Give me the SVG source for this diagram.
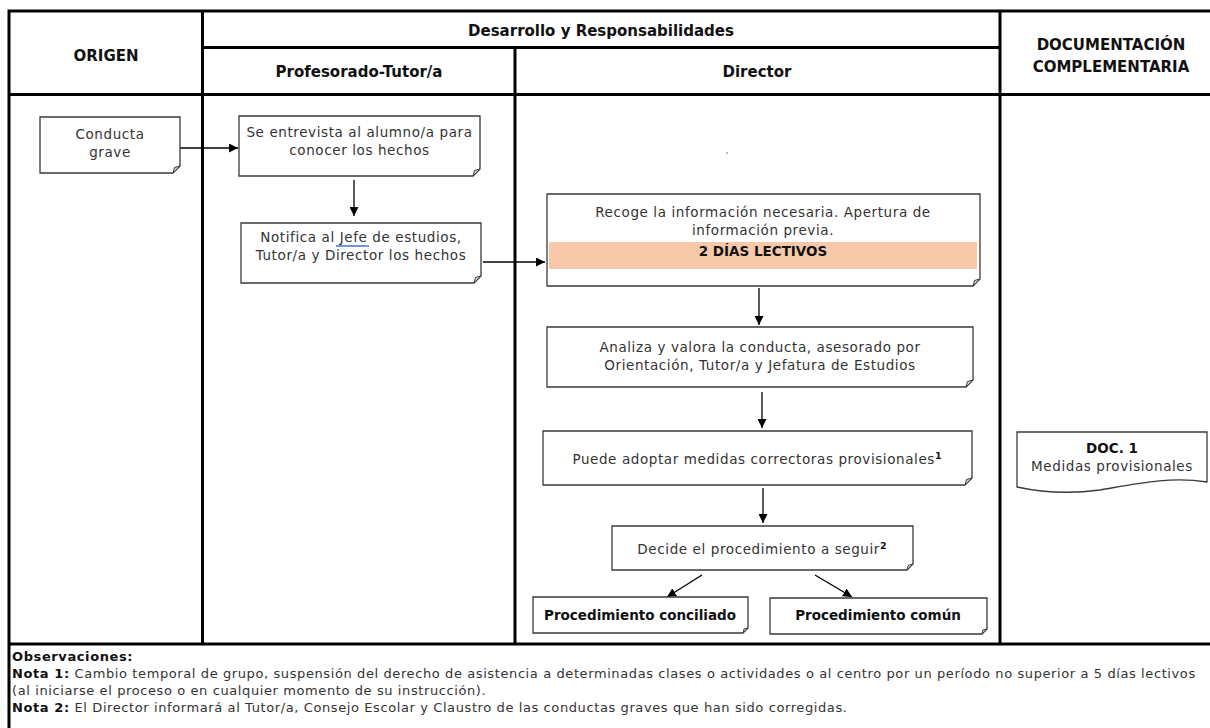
<svg xmlns="http://www.w3.org/2000/svg" width="1210" height="728" viewBox="0 0 1210 728">
<style>
.grid{stroke:#000;stroke-width:3;fill:none}
.hd{font-family:"DejaVu Sans",sans-serif;font-weight:bold;font-size:15px;fill:#111;text-anchor:middle}
.box{fill:#fff;stroke:#3a3a3a;stroke-width:1.3}
.fold{fill:#d0d0d0;stroke:#3a3a3a;stroke-width:1}
.t{font-family:"DejaVu Sans",sans-serif;font-size:13.5px;letter-spacing:0.6px;fill:#333;text-anchor:middle}
.tb{font-family:"DejaVu Sans",sans-serif;font-size:13.5px;font-weight:bold;fill:#111;text-anchor:middle}
.sup{font-size:9.5px;font-weight:bold;fill:#111;letter-spacing:0}
.n{font-family:"DejaVu Sans",sans-serif;font-size:13px;letter-spacing:0.6px;fill:#333}
.nb{font-weight:bold;fill:#111}
.con{stroke:#000;stroke-width:1.3;fill:none;marker-end:url(#ah)}
</style>
<defs>
<marker id="ah" viewBox="0 0 10 10" refX="10" refY="5" markerWidth="9" markerHeight="9" markerUnits="userSpaceOnUse" orient="auto"><path d="M0,0 L10,5 L0,10 z" fill="#000"/></marker>
</defs>
<rect width="1210" height="728" fill="#fff"/>
<g id="table">
<path class="grid" d="M9,728 V11 H1212 M202.5,11 V644 M515,47.5 V644 M1000,11 V644 M202.5,47.5 H1000 M9,94.5 H1212 M9,644 H1212"/>
<text class="hd" x="106" y="61">ORIGEN</text>
<text class="hd" x="601" y="36">Desarrollo y Responsabilidades</text>
<text class="hd" x="359" y="77">Profesorado-Tutor/a</text>
<text class="hd" x="757" y="77">Director</text>
<text class="hd" x="1111" y="50">DOCUMENTACIÓN</text>
<text class="hd" x="1111" y="72">COMPLEMENTARIA</text>
</g>
<g id="connectors">
<path class="con" d="M180,148 H238"/>
<path class="con" d="M354,180 V216"/>
<path class="con" d="M483,262 H545"/>
<path class="con" d="M759,288 V325"/>
<path class="con" d="M762,392 V428"/>
<path class="con" d="M763,488 V523"/>
<path class="con" d="M702,575 L667,597"/>
<path class="con" d="M815,575 L852,597"/>
</g>
<g id="n-conducta">
<path class="box" d="M40,117 H180 V166 L173,173 H40 Z"/>
<path class="fold" d="M180,166 L173,173 L174.5,167.5 Z"/>
<text class="t" x="110" y="139">Conducta</text>
<text class="t" x="110" y="157">grave</text>
</g>
<g id="n-entrevista">
<path class="box" d="M239,116 H480 V169 L473,176 H239 Z"/>
<path class="fold" d="M480,169 L473,176 L474.5,170.5 Z"/>
<text class="t" x="359.5" y="137">Se entrevista al alumno/a para</text>
<text class="t" x="359.5" y="155">conocer los hechos</text>
</g>
<g id="n-notifica">
<path class="box" d="M241,223 H481 V276 L474,283 H241 Z"/>
<path class="fold" d="M481,276 L474,283 L475.5,277.5 Z"/>
<text class="t" x="361" y="242">Notifica al Jefe de estudios,</text>
<text class="t" x="361" y="260">Tutor/a y Director los hechos</text>
<line x1="336" y1="246" x2="369" y2="246" stroke="#4472c4" stroke-width="1.6"/>
</g>
<g id="n-recoge">
<path class="box" d="M547,194 H980 V279 L973,286 H547 Z"/>
<path class="fold" d="M980,279 L973,286 L974.5,280.5 Z"/>
<rect x="549" y="242" width="428" height="27" fill="#f7c9aa"/>
<text class="t" x="763" y="217">Recoge la información necesaria. Apertura de</text>
<text class="t" x="763" y="235">información previa.</text>
<text class="tb" x="763" y="256">2 DÍAS LECTIVOS</text>
</g>
<circle id="dot" cx="727" cy="153" r="1.2" fill="#bbb"/>
<g id="n-analiza">
<path class="box" d="M547,327 H973 V380 L966,387 H547 Z"/>
<path class="fold" d="M973,380 L966,387 L967.5,381.5 Z"/>
<text class="t" x="760" y="352">Analiza y valora la conducta, asesorado por</text>
<text class="t" x="760" y="370">Orientación, Tutor/a y Jefatura de Estudios</text>
</g>
<g id="n-puede">
<path class="box" d="M543,431 H972 V478 L965,485 H543 Z"/>
<path class="fold" d="M972,478 L965,485 L966.5,479.5 Z"/>
<text class="t" x="757" y="464">Puede adoptar medidas correctoras provisionales<tspan class="sup" dy="-5">1</tspan></text>
</g>
<g id="n-decide">
<path class="box" d="M612,526 H913 V564 L907,570 H612 Z"/>
<path class="fold" d="M913,564 L907,570 L908.3,565.3 Z"/>
<text class="t" x="762" y="554">Decide el procedimiento a seguir<tspan class="sup" dy="-5">2</tspan></text>
</g>
<g id="n-conciliado">
<path class="box" d="M533,597 H748 V628 L743,633 H533 Z"/>
<path class="fold" d="M748,628 L743,633 L744,629 Z"/>
<text class="tb" x="640" y="620">Procedimiento conciliado</text>
</g>
<g id="n-comun">
<path class="box" d="M770,598 H987 V629 L982,634 H770 Z"/>
<path class="fold" d="M987,629 L982,634 L983,630 Z"/>
<text class="tb" x="878" y="620">Procedimiento común</text>
</g>
<g id="n-doc1">
<path class="box" d="M1017,432 H1207 V482 C1170,476 1135,484 1100,490 C1070,494 1040,492 1017,487 Z"/>
<text class="tb" x="1112" y="453">DOC. 1</text>
<text class="t" x="1112" y="471">Medidas provisionales</text>
</g>
<g id="notes">
<text class="n" x="12" y="661"><tspan class="nb">Observaciones:</tspan></text>
<text class="n" x="12" y="678"><tspan class="nb">Nota 1:</tspan> Cambio temporal de grupo, suspensión del derecho de asistencia a determinadas clases o actividades o al centro por un período no superior a 5 días lectivos</text>
<text class="n" x="12" y="695">(al iniciarse el proceso o en cualquier momento de su instrucción).</text>
<text class="n" x="12" y="712"><tspan class="nb">Nota 2:</tspan> El Director informará al Tutor/a, Consejo Escolar y Claustro de las conductas graves que han sido corregidas.</text>
</g>
</svg>
